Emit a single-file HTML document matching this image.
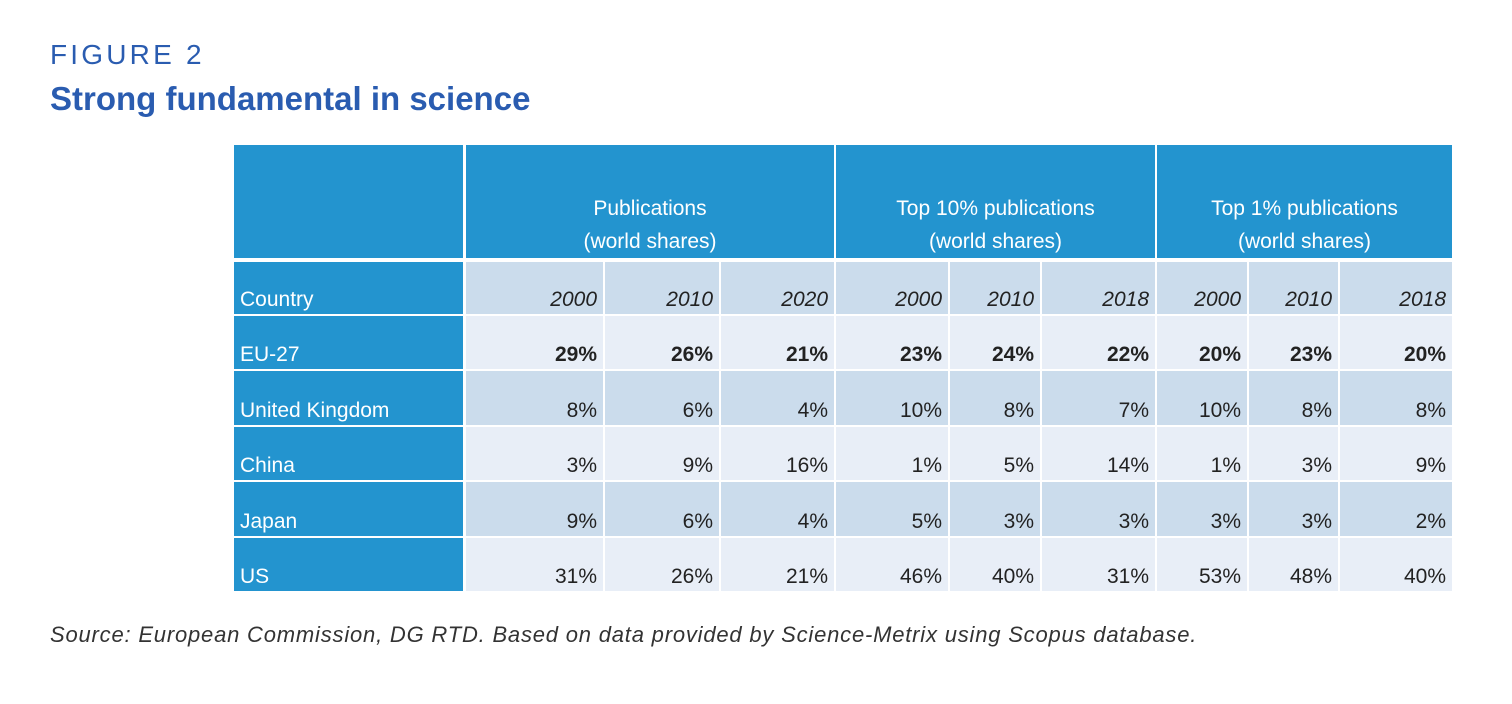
<!DOCTYPE html>
<html><head><meta charset="utf-8"><style>
body{margin:0;width:1512px;height:704px;background:#fff;position:relative;overflow:hidden;font-family:"Liberation Sans",sans-serif}
.c{position:absolute;box-sizing:border-box;display:flex;align-items:flex-end;justify-content:flex-end;padding:0 6px 2px 0;font-size:21px;color:#222}
.h{background:#2394cf;color:#fff;justify-content:center;align-items:flex-end;text-align:center;padding:0 0 0 0;line-height:33px;font-size:21px}
</style></head><body>
<div style="position:absolute;left:50px;top:39px;font-size:28px;letter-spacing:3.2px;color:#2a5cb0">FIGURE 2</div>
<div style="position:absolute;left:50px;top:80px;font-size:33px;font-weight:bold;color:#2a5cb0">Strong fundamental in science</div>
<div id="tbl"></div>
<div style="position:absolute;left:50px;top:622px;font-size:22px;letter-spacing:0.8px;font-style:italic;color:#333">Source: European Commission, DG RTD. Based on data provided by Science-Metrix using Scopus database.</div>
<script>
const groups=["Publications","Top 10% publications","Top 1% publications"];
const years=["2000","2010","2020","2000","2010","2018","2000","2010","2018"];
const countries=["EU-27","United Kingdom","China","Japan","US"];
const eu=["29%","26%","21%","23%","24%","22%","20%","23%","20%"];
const uk=["8%","6%","4%","10%","8%","7%","10%","8%","8%"];
const cn=["3%","9%","16%","1%","5%","14%","1%","3%","9%"];
const jp=["9%","6%","4%","5%","3%","3%","3%","3%","2%"];
const us=["31%","26%","21%","46%","40%","31%","53%","48%","40%"];
const rows=[eu,uk,cn,jp,us];
const colX=[234,465,604,720,835,949,1041,1156,1248,1339,1453];
const rowY=[262,316,371,427,482,538,593];
const T=document.getElementById('tbl');
function cell(x,y,w,h,cls,html,bg){const d=document.createElement('div');d.className='c '+cls;d.style.left=x+'px';d.style.top=y+'px';d.style.width=w+'px';d.style.height=h+'px';if(bg)d.style.background=bg;d.innerHTML=html;T.appendChild(d);return d;}
let d=cell(234,145,229,113,'h','');


groups.forEach((g,i)=>{const x0=colX[1+i*3],x1=colX[4+i*3];
 const e=cell(x0+1,145,x1-x0-2,113,'h',g+'<br>(world shares)');
 
 });
const gray='#cbdcec',light='#e8eef7';
const lbl=['Country'].concat(countries);
for(let r=0;r<6;r++){
 const y=rowY[r],h=rowY[r+1]-y-2;
 const c=cell(234,y,229,h,'','',"#2394cf");c.style.justifyContent='flex-start';c.style.paddingLeft='6px';c.style.color='#fff';c.textContent=lbl[r];
 
 
 const bg=(r%2==0)?gray:light;
 for(let k=0;k<9;k++){
  const x=colX[k+1]+1,w=colX[k+2]-colX[k+1]-2;
  const txt=r==0?years[k]:rows[r-1][k];
  const e=cell(x,y,w,h,'',txt,bg);
  if(r==0)e.style.fontStyle='italic';
  if(r==1)e.style.fontWeight='bold';
  
  
 }
}
</script>
</body></html>
